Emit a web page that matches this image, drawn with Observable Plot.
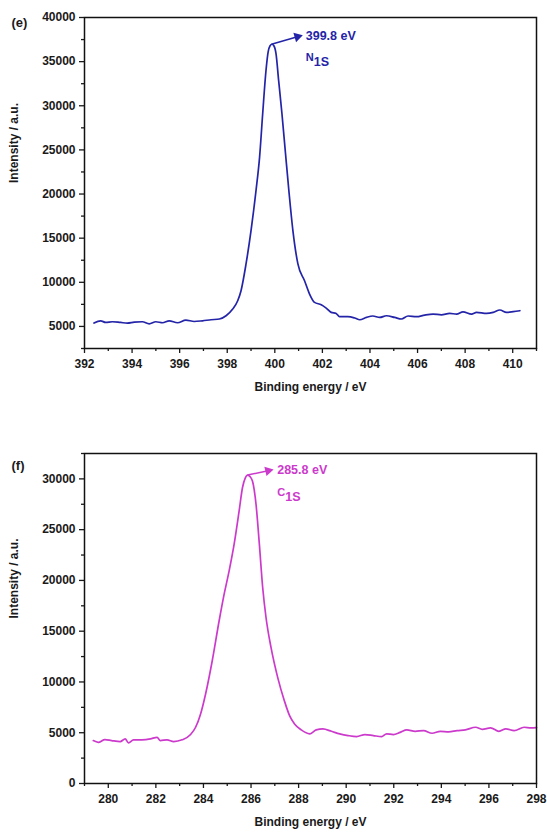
<!DOCTYPE html>
<html>
<head>
<meta charset="utf-8">
<script src="https://cdn.jsdelivr.net/npm/d3@7"></script>
<script src="https://cdn.jsdelivr.net/npm/@observablehq/plot@0.6"></script>
<style>
  html, body { margin: 0; padding: 0; background: #fff; }
  #root { position: relative; width: 547px; height: 834px; overflow: hidden; }
</style>
</head>
<body>
<div id="root"></div>
<script>
// ---------- Panel (e): N 1s ----------
const nEnergy = [392.4,392.68,392.89,393.17,393.52,393.8,394.09,394.43,394.72,395.0,395.28,395.56,395.91,396.26,396.61,396.96,397.32,397.67,397.95,398.23,398.44,398.58,398.79,399.0,399.21,399.36,399.49,399.63,399.72,399.8,399.88,399.96,400.05,400.16,400.3,400.45,400.59,400.76,400.97,401.25,401.46,401.67,401.95,402.16,402.37,402.58,402.72,403.07,403.36,403.57,403.85,404.12,404.41,404.69,405.04,405.32,405.6,405.95,406.3,406.65,407.0,407.35,407.64,407.91,408.27,408.48,408.9,409.18,409.46,409.74,410.02,410.3];
const nIntensity = [5380,5640,5450,5530,5450,5380,5490,5530,5300,5530,5420,5640,5420,5720,5560,5640,5760,5840,6210,6970,7910,9050,12080,15860,20400,24180,29100,34020,36100,36800,36970,36800,35900,32880,29100,24560,20400,15860,12080,10180,8670,7720,7460,7080,6590,6470,6100,6100,5950,5760,6020,6180,6020,6210,6020,5840,6180,6100,6290,6400,6320,6470,6400,6660,6400,6590,6470,6590,6860,6590,6670,6780];
const nXMajor = [392,394,396,398,400,402,404,406,408,410];
const nXMinor = [393,395,397,399,401,403,405,407,409,411];
const nYMajor = [5000,10000,15000,20000,25000,30000,35000,40000];
const nYMinor = [2500,7500,12500,17500,22500,27500,32500,37500];
const nDomainX = [392, 411];
const nDomainY = [2500, 40000];
const nPeak = {x: 399.86, y: 36970, tipX: 400.95, tipY: 37820, label: "399.8 eV", sym: "N", sub: "1S", textX: 401.3, textY: 37900, symY: 35300, headRotate: 74};

// ---------- Panel (f): C 1s ----------
const cEnergy = [279.37,279.58,279.86,280.14,280.5,280.71,280.85,281.06,281.41,281.77,282.05,282.19,282.47,282.75,283.1,283.46,283.67,283.88,284.09,284.37,284.66,284.87,285.08,285.29,285.5,285.64,285.76,285.85,285.95,286.06,286.21,286.35,286.49,286.63,286.84,287.12,287.4,287.62,287.83,288.11,288.46,288.74,289.02,289.38,289.73,290.08,290.44,290.79,291.14,291.49,291.7,291.98,292.27,292.55,292.9,293.25,293.61,293.96,294.31,294.66,295.01,295.44,295.72,296.07,296.42,296.71,297.06,297.48,297.76,298.0];
const cIntensity = [4230,4060,4330,4230,4130,4390,4000,4300,4300,4390,4550,4230,4300,4130,4300,4820,5540,6850,8820,12090,16030,18650,20940,23570,26840,29130,30100,30380,30250,29790,27500,23570,19300,16350,13400,10450,8160,6690,5870,5280,4890,5280,5380,5140,4890,4720,4620,4820,4720,4620,4890,4820,5040,5280,5140,5210,4950,5140,5080,5210,5280,5540,5340,5480,5140,5380,5210,5540,5480,5500];
const cXMajor = [280,282,284,286,288,290,292,294,296,298];
const cXMinor = [279,281,283,285,287,289,291,293,295,297];
const cYMajor = [0,5000,10000,15000,20000,25000,30000];
const cYMinor = [2500,7500,12500,17500,22500,27500,32500];
const cDomainX = [279, 298];
const cDomainY = [0, 32500];
const cPeak = {x: 285.85, y: 30380, tipX: 286.72, tipY: 30800, label: "285.8 eV", sym: "C", sub: "1S", textX: 287.1, textY: 30850, symY: 28500, headRotate: 77};

const FONT = "'Liberation Sans', Arial, Helvetica, sans-serif";
const INK = "#1a1a1a";
const root = document.getElementById("root");

function panel({energy, intensity, xMajor, xMinor, yMajor, yMinor, domX, domY, peak, color, tag, height, marginTop, marginBottom, top, tagDy}) {
  const data = energy.map((e, i) => ({e, v: intensity[i]}));
  const chart = Plot.plot({
    width: 547,
    height,
    marginLeft: 84,
    marginRight: 11,
    marginTop,
    marginBottom,
    style: {fontFamily: FONT, fontSize: "12px", fontWeight: "bold", color: INK, background: "transparent", overflow: "visible"},
    x: {domain: domX},
    y: {domain: domY},
    marks: [
      Plot.axisX({ticks: xMajor, tickSize: 5, tickPadding: 6, tickFormat: d => String(d), label: null, strokeWidth: 1.3}),
      Plot.axisX({ticks: xMinor, tickSize: 3, text: null, label: null, strokeWidth: 1.3}),
      Plot.axisY({ticks: yMajor, tickSize: 5, tickPadding: 4, tickFormat: d => String(d), label: null, strokeWidth: 1.3}),
      Plot.axisY({ticks: yMinor, tickSize: 3, text: null, label: null, strokeWidth: 1.3}),
      Plot.line(data, {x: "e", y: "v", stroke: color, strokeWidth: 1.7, curve: "monotone-x"}),
      Plot.link([peak], {x1: "x", y1: "y", x2: "tipX", y2: "tipY", stroke: color, strokeWidth: 1.5}),
      Plot.dot([peak], {x: "tipX", y: "tipY", symbol: "triangle", r: 3.6, fill: color, stroke: "none", rotate: "headRotate"}),
      Plot.text([peak], {x: "textX", y: "textY", text: "label", fill: color, textAnchor: "start", fontSize: 12.5, fontWeight: "bold"}),
      Plot.text([peak], {x: "textX", y: "symY", text: "sym", fill: color, textAnchor: "start", fontSize: 11, fontWeight: "bold", dy: -2}),
      Plot.text([peak], {x: "textX", y: "symY", text: "sub", fill: color, textAnchor: "start", fontSize: 12.5, fontWeight: "bold", dx: 8, dy: 3}),
      Plot.frame({stroke: "#111", strokeWidth: 1.5}),
      Plot.text([tag], {frameAnchor: "top-left", text: d => d, dx: -73, dy: tagDy, textAnchor: "start", fontSize: 13, fontWeight: "bold", fill: INK}),
      Plot.text(["Intensity / a.u."], {frameAnchor: "left", text: d => d, dx: -70, rotate: -90, fontSize: 12, fontWeight: "bold", fill: INK}),
      Plot.text(["Binding energy / eV"], {frameAnchor: "bottom", text: d => d, dy: 42, fontSize: 12, fontWeight: "bold", fill: INK})
    ]
  });
  chart.style.position = "absolute";
  chart.style.top = top + "px";
  chart.style.left = "0px";
  root.appendChild(chart);
}

panel({energy: nEnergy, intensity: nIntensity, xMajor: nXMajor, xMinor: nXMinor, yMajor: nYMajor, yMinor: nYMinor,
  domX: nDomainX, domY: nDomainY, peak: nPeak, color: "#2424a8", tag: "(e)", height: 410, marginTop: 17, marginBottom: 62, top: 0, tagDy: 0});
panel({energy: cEnergy, intensity: cIntensity, xMajor: cXMajor, xMinor: cXMinor, yMajor: cYMajor, yMinor: cYMinor,
  domX: cDomainX, domY: cDomainY, peak: cPeak, color: "#cc3acc", tag: "(f)", height: 424, marginTop: 43, marginBottom: 51, top: 410, tagDy: 7});
</script>
</body>
</html>
